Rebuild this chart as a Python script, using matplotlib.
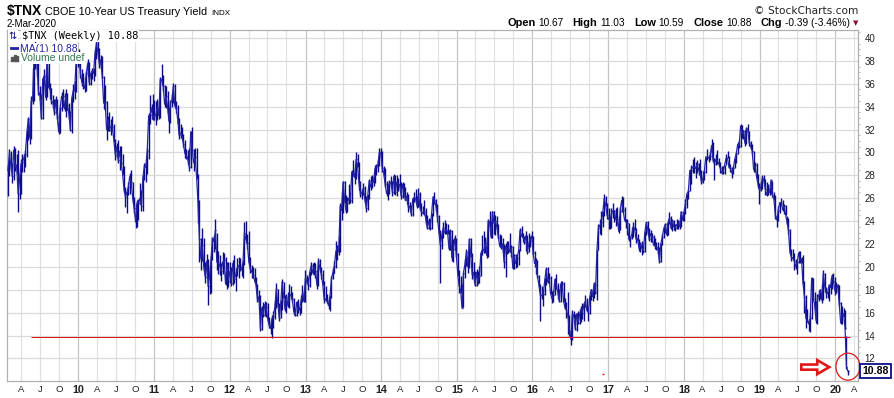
import matplotlib
matplotlib.use("Agg")
import matplotlib.pyplot as plt
from matplotlib.patches import Ellipse, FancyArrow, Rectangle
from matplotlib.lines import Line2D
from matplotlib.dates import date2num
import numpy as np
import pandas as pd

# ---------------- data: weekly $TNX bars (close / high / low) ----------------
closes_2009 = [28.4, 29.9, 28.9, 27.9, 30.2, 28.7, 28.9, 26.4, 27.6, 29.0,
               29.2, 29.5, 29.9, 31.6, 32.9, 31.3, 34.5, 34.6, 38.3, 37.9,
               37.8, 35.3, 35.0, 33.0, 36.4, 36.7, 34.8, 38.5, 35.7, 35.6,
               34.4, 34.4, 33.5, 34.6, 33.1, 31.8, 33.9, 34.9, 34.9, 33.8,
               35.0, 34.1, 33.4, 32.0, 34.7, 35.4, 35.4, 38.0, 38.4]
highs_2009 = [28.9, 30.3, 30.1, 29.1, 30.6, 30.4, 29.9, 30.2, 28.2, 29.4,
              29.9, 29.9, 30.2, 32.0, 33.1, 32.9, 34.9, 37.4, 38.9, 40.0,
              38.4, 38.0, 35.8, 35.1, 36.5, 37.3, 36.8, 38.9, 38.6, 36.1,
              35.6, 35.0, 34.7, 34.9, 34.7, 33.4, 34.0, 35.3, 35.5, 35.2,
              35.5, 35.2, 34.3, 33.6, 34.9, 36.0, 36.2, 38.2, 38.6]
lows_2009 = [26.2, 27.9, 28.5, 27.3, 27.6, 28.4, 28.1, 24.8, 25.9, 26.4,
             28.3, 28.3, 28.7, 29.6, 31.1, 30.7, 31.2, 34.2, 34.5, 37.3,
             36.6, 35.0, 34.6, 32.9, 32.9, 35.9, 34.6, 34.8, 35.5, 34.7,
             34.2, 33.9, 33.3, 33.4, 32.9, 31.6, 31.7, 33.6, 34.0, 33.6,
             33.1, 33.7, 32.9, 31.9, 31.7, 34.4, 34.7, 35.3, 37.5]

closes_2010 = [38.3, 36.8, 36.1, 35.9, 35.6, 36.9, 37.8, 36.1, 36.8, 37.1,
               36.9, 38.6, 39.5, 38.8, 37.7, 38.1, 36.6, 34.3, 34.4, 32.0,
               32.9, 32.0, 32.3, 32.2, 31.1, 29.8, 30.5, 29.3, 30.1, 29.1,
               28.2, 26.8, 26.1, 26.5, 27.0, 27.9, 27.4, 26.0, 25.1, 23.9,
               25.6, 25.6, 26.0, 25.3, 27.7, 28.8, 28.7, 30.1, 33.2, 33.3,
               33.9, 32.9]
highs_2010 = [39.0, 38.5, 37.3, 36.9, 36.6, 37.1, 38.2, 37.9, 37.1, 37.4,
              37.4, 39.0, 39.8, 40.1, 39.1, 38.5, 38.4, 36.7, 35.9, 34.5,
              33.2, 33.5, 32.9, 33.2, 32.5, 31.2, 30.8, 31.1, 30.6, 30.6,
              29.9, 28.8, 27.0, 26.6, 27.4, 28.2, 28.5, 27.4, 26.1, 25.5,
              25.8, 25.9, 27.3, 26.7, 28.0, 29.1, 29.2, 30.4, 33.4, 35.0,
              34.2, 35.1]
lows_2010 = [37.7, 36.5, 35.8, 35.5, 35.3, 35.4, 36.7, 35.9, 35.9, 36.4,
             36.2, 36.7, 38.2, 38.5, 37.4, 37.3, 36.5, 33.8, 33.7, 31.1,
             31.9, 31.9, 31.5, 31.9, 30.9, 29.3, 29.6, 29.1, 28.5, 28.9,
             28.0, 26.5, 25.2, 24.7, 26.3, 26.4, 27.1, 25.6, 24.7, 23.4,
             23.5, 24.1, 25.5, 24.9, 24.9, 27.6, 27.4, 28.1, 29.4, 32.5,
             32.9, 32.8]

closes_2011 = [33.2, 33.3, 34.0, 33.2, 36.4, 36.3, 35.8, 34.2, 34.9, 34.0,
               32.7, 34.4, 34.5, 35.8, 34.1, 33.9, 32.9, 31.5, 31.7, 31.5,
               30.7, 29.9, 29.7, 29.4, 28.7, 31.8, 30.2, 29.1, 29.6, 28.0,
               25.6, 22.4, 20.7, 21.9, 20.0, 19.1, 20.5, 18.3, 19.2, 20.7,
               22.5, 22.2, 23.2, 20.4, 20.4, 20.1, 19.6, 20.4, 20.6, 18.5,
               20.2, 18.8]
highs_2011 = [34.6, 34.5, 34.7, 34.5, 36.6, 37.7, 36.8, 35.9, 35.8, 35.4,
              34.0, 34.6, 35.1, 36.1, 36.0, 34.5, 34.1, 33.0, 32.5, 32.2,
              31.6, 31.1, 30.3, 30.2, 30.4, 31.9, 32.2, 30.3, 30.4, 30.4,
              28.1, 25.8, 22.5, 23.4, 22.5, 20.4, 21.1, 20.7, 20.2, 21.0,
              22.6, 22.8, 24.2, 23.0, 21.4, 21.0, 20.3, 21.3, 21.2, 20.9,
              20.4, 20.4]
lows_2011 = [32.8, 32.4, 32.8, 32.9, 33.0, 35.9, 35.4, 34.0, 33.9, 33.4,
             31.7, 32.6, 34.0, 34.3, 33.9, 33.4, 32.5, 31.2, 31.3, 31.1,
             30.5, 29.5, 29.4, 29.0, 28.4, 28.6, 29.9, 28.4, 29.0, 27.7,
             23.8, 20.4, 19.7, 20.5, 19.7, 18.6, 19.0, 16.7, 17.6, 17.7,
             20.6, 21.3, 21.6, 19.7, 19.4, 19.3, 18.8, 19.4, 19.9, 18.4,
             18.1, 18.2]

closes_2012 = [19.6, 18.6, 20.3, 18.9, 19.3, 19.9, 20.1, 19.8, 19.8, 20.3,
               23.0, 22.4, 22.1, 20.5, 19.8, 19.6, 19.3, 18.8, 18.4, 17.1,
               17.4, 14.6, 16.4, 15.8, 16.7, 16.5, 15.5, 14.9, 14.6, 15.5,
               15.7, 16.5, 18.1, 16.8, 15.5, 16.7, 18.7, 17.5, 16.3, 17.4,
               16.6, 17.6, 17.5, 17.2, 16.1, 15.8, 16.9, 16.2, 16.3, 17.0,
               17.7, 17.0]
highs_2012 = [20.4, 20.0, 20.6, 21.0, 19.9, 20.8, 20.9, 20.8, 20.3, 20.6,
              23.9, 24.0, 22.9, 23.1, 20.9, 20.2, 20.0, 19.9, 19.1, 18.5,
              18.0, 17.5, 16.6, 16.9, 17.0, 16.9, 16.8, 15.6, 15.3, 15.8,
              16.1, 17.0, 18.6, 18.1, 16.8, 17.1, 18.9, 18.7, 17.5, 17.6,
              17.8, 18.5, 18.3, 17.8, 17.3, 16.4, 17.0, 17.2, 16.5, 17.5,
              18.4, 18.0]
lows_2012 = [18.6, 18.3, 18.4, 18.6, 17.9, 19.2, 19.0, 19.6, 19.2, 19.0,
             20.2, 22.1, 21.6, 20.3, 19.5, 19.0, 19.0, 18.7, 18.2, 16.9,
             16.9, 14.4, 14.5, 15.6, 15.7, 15.6, 15.3, 14.7, 14.1, 13.8,
             14.7, 15.4, 16.4, 16.5, 15.3, 15.5, 16.2, 17.3, 16.1, 16.0,
             16.5, 16.4, 17.2, 16.9, 15.8, 15.7, 15.7, 16.0, 15.8, 16.0,
             16.9, 16.9]

closes_2013 = [19.0, 18.7, 18.4, 19.5, 20.1, 19.5, 20.0, 19.6, 18.4, 20.5,
               19.9, 19.3, 18.5, 17.1, 17.2, 17.0, 16.6, 17.4, 19.0, 19.5,
               20.1, 21.3, 21.7, 21.3, 25.3, 24.9, 27.4, 25.9, 24.9, 25.6,
               26.0, 25.8, 28.3, 28.2, 27.8, 29.4, 28.9, 27.3, 26.3, 26.5,
               26.9, 25.9, 25.1, 26.2, 27.5, 27.0, 27.5, 27.4, 28.6, 28.7,
               28.9, 30.0]
highs_2013 = [19.7, 19.3, 19.1, 19.6, 20.4, 20.3, 20.4, 20.3, 19.7, 20.8,
              20.7, 20.0, 19.7, 18.8, 18.3, 17.6, 17.4, 17.5, 19.2, 19.9,
              20.5, 22.3, 21.9, 22.7, 25.6, 26.6, 27.5, 27.5, 26.3, 26.1,
              27.2, 26.5, 28.5, 29.3, 28.6, 30.0, 29.9, 29.2, 27.5, 26.8,
              27.3, 27.1, 26.2, 26.4, 27.7, 27.9, 28.0, 27.9, 28.9, 29.0,
              29.4, 30.4]
lows_2013 = [16.9, 18.5, 18.0, 18.2, 19.3, 19.4, 19.3, 19.0, 18.1, 18.3,
             19.6, 18.9, 18.4, 16.8, 17.0, 16.8, 16.3, 16.1, 17.3, 18.9,
             19.5, 19.9, 20.6, 21.0, 21.3, 24.1, 24.7, 25.6, 24.7, 24.8,
             25.5, 25.6, 25.6, 27.9, 27.2, 27.7, 28.7, 26.7, 26.1, 25.9,
             26.3, 25.7, 24.8, 25.0, 25.9, 26.7, 26.9, 27.1, 27.3, 28.0,
             28.3, 28.8]

closes_2014 = [29.9, 28.6, 28.2, 27.2, 26.4, 26.8, 27.4, 27.3, 26.5, 27.9,
               26.5, 27.4, 27.2, 27.2, 26.2, 27.2, 26.6, 25.8, 26.2, 25.2,
               25.3, 24.6, 25.9, 26.0, 26.0, 25.3, 26.4, 25.2, 24.8, 24.7,
               24.9, 24.2, 23.4, 24.0, 23.4, 24.6, 26.1, 25.8, 25.3, 24.4,
               23.1, 21.9, 22.7, 23.4, 23.0, 23.2, 23.1, 21.6, 23.1, 20.8,
               21.6, 22.5, 21.1]
highs_2014 = [30.4, 30.1, 28.8, 28.6, 27.5, 27.2, 27.6, 27.9, 27.5, 28.1,
              28.0, 28.0, 27.8, 28.1, 27.4, 27.4, 27.3, 27.0, 26.5, 26.4,
              25.7, 25.4, 26.1, 26.5, 26.8, 26.2, 26.9, 26.5, 25.6, 25.3,
              25.8, 25.1, 24.5, 24.3, 24.2, 24.7, 26.2, 26.5, 25.9, 25.5,
              24.5, 23.2, 23.0, 23.9, 24.1, 23.8, 23.7, 23.2, 23.3, 23.2,
              22.4, 22.8, 22.5]
lows_2014 = [29.5, 28.3, 27.9, 27.0, 26.2, 25.8, 26.4, 27.0, 26.2, 26.4,
             26.3, 26.2, 26.6, 26.9, 25.9, 26.0, 26.5, 25.8, 25.5, 24.8,
             25.0, 24.4, 24.4, 25.7, 25.6, 25.1, 25.2, 25.0, 24.4, 24.6,
             24.5, 23.7, 23.3, 23.3, 23.2, 23.3, 24.4, 25.5, 24.9, 23.9,
             22.9, 18.6, 21.6, 22.5, 22.9, 22.9, 22.9, 21.5, 21.5, 20.5,
             20.4, 21.5, 20.9]

closes_2015 = [19.5, 18.3, 18.0, 16.4, 19.5, 20.2, 21.3, 20.0, 22.4, 21.1,
               19.3, 19.5, 18.4, 19.5, 18.7, 19.2, 21.2, 21.5, 21.4, 22.1,
               21.0, 24.0, 23.9, 22.6, 24.8, 23.8, 24.0, 23.5, 22.6, 21.8,
               21.7, 22.0, 20.4, 21.8, 21.3, 21.8, 21.3, 21.7, 19.9, 21.0,
               20.3, 20.8, 21.4, 23.2, 22.7, 22.6, 22.2, 22.7, 21.3, 22.0,
               22.5, 22.7]
highs_2015 = [21.2, 19.7, 19.2, 18.5, 19.5, 20.7, 21.6, 21.4, 22.5, 22.5,
              21.2, 20.4, 19.6, 19.8, 19.6, 20.1, 21.2, 22.8, 23.1, 22.6,
              22.4, 24.2, 24.9, 24.0, 24.9, 24.9, 24.5, 24.4, 23.7, 22.9,
              22.8, 22.5, 22.0, 22.1, 22.3, 22.3, 23.0, 21.9, 21.8, 21.1,
              21.1, 21.0, 21.6, 23.4, 23.6, 23.0, 22.7, 23.1, 22.8, 23.0,
              22.7, 23.1]
lows_2015 = [19.2, 17.7, 17.7, 16.4, 16.5, 19.0, 20.1, 19.5, 19.9, 20.9,
             18.9, 18.7, 18.3, 18.3, 18.5, 18.6, 19.2, 21.0, 21.2, 21.2,
             20.8, 20.9, 23.5, 22.5, 22.5, 22.9, 22.8, 23.3, 22.4, 21.7,
             21.6, 21.3, 19.9, 19.1, 21.1, 21.2, 21.3, 20.9, 19.8, 19.8,
             19.9, 20.0, 20.2, 21.4, 22.6, 22.2, 22.0, 21.4, 21.1, 21.3,
             21.7, 22.2]

closes_2016 = [21.2, 20.3, 20.5, 19.2, 18.4, 17.5, 17.5, 17.6, 18.8, 19.8,
               18.7, 19.0, 17.7, 17.2, 17.5, 18.9, 18.3, 17.8, 17.0, 18.5,
               18.5, 17.0, 16.4, 16.2, 15.7, 14.4, 13.7, 15.9, 15.7, 14.6,
               15.9, 15.1, 15.8, 16.3, 16.0, 16.7, 17.0, 16.2, 16.0, 17.3,
               18.0, 17.4, 18.5, 17.8, 21.5, 23.4, 23.6, 23.9, 24.7, 26.0,
               25.4, 24.5]
highs_2016 = [22.7, 21.4, 20.8, 20.6, 19.3, 18.5, 18.3, 18.1, 19.0, 20.0,
              20.0, 19.5, 19.2, 17.9, 18.0, 19.0, 19.4, 18.6, 18.1, 18.8,
              18.8, 18.7, 17.3, 16.9, 17.8, 15.8, 14.5, 16.2, 16.1, 15.9,
              16.0, 16.1, 16.3, 16.6, 16.8, 16.8, 17.5, 17.3, 16.3, 17.5,
              18.1, 18.0, 18.7, 18.6, 21.5, 23.7, 24.2, 24.9, 24.9, 26.4,
              26.2, 25.6]
lows_2016 = [21.1, 20.0, 19.4, 19.0, 18.2, 15.3, 17.2, 16.6, 17.5, 18.4,
             18.6, 18.6, 17.6, 16.8, 16.9, 17.5, 18.1, 17.2, 16.9, 16.9,
             18.0, 16.9, 16.3, 15.5, 14.1, 14.0, 13.2, 13.6, 15.5, 14.5,
             14.4, 15.0, 15.0, 15.2, 15.4, 15.3, 16.5, 16.1, 15.3, 15.9,
             17.1, 17.0, 17.3, 17.6, 17.1, 21.5, 22.9, 22.8, 23.5, 24.4,
             25.3, 24.2]

closes_2017 = [24.2, 24.0, 24.7, 24.9, 24.9, 24.1, 24.2, 23.1, 24.9, 25.8,
               25.0, 24.1, 23.9, 23.8, 22.4, 22.5, 22.8, 23.5, 23.3, 22.4,
               22.5, 21.6, 22.0, 21.6, 21.4, 23.0, 23.9, 23.3, 22.4, 22.9,
               22.6, 21.9, 21.9, 21.7, 21.6, 20.5, 22.0, 22.6, 23.3, 23.7,
               22.8, 23.9, 24.3, 23.4, 24.0, 23.5, 23.4, 23.7, 23.8, 23.5,
               24.8, 24.1]
highs_2017 = [25.1, 24.3, 25.1, 25.6, 25.0, 25.1, 25.2, 24.4, 25.2, 26.2,
              26.1, 25.2, 24.2, 24.2, 23.8, 22.7, 23.5, 23.9, 24.2, 23.4,
              22.9, 22.4, 22.2, 22.3, 21.8, 23.1, 23.9, 24.0, 23.4, 23.2,
              23.0, 22.8, 22.5, 22.2, 22.2, 21.7, 22.1, 22.9, 23.5, 23.8,
              23.8, 23.9, 24.8, 24.4, 24.2, 24.1, 23.7, 24.2, 24.1, 24.1,
              24.9, 24.8]
lows_2017 = [23.3, 23.3, 23.4, 24.3, 23.9, 23.6, 23.7, 23.0, 23.2, 24.8,
             24.8, 24.0, 23.4, 22.8, 22.3, 21.7, 22.4, 22.6, 23.2, 22.1,
             22.3, 21.4, 21.3, 21.0, 21.2, 21.3, 22.8, 23.0, 22.3, 22.2,
             22.2, 21.8, 21.6, 21.5, 21.1, 20.3, 20.4, 21.9, 22.5, 23.0,
             22.7, 22.8, 23.7, 23.3, 23.1, 23.2, 23.1, 23.3, 23.3, 23.3,
             23.5, 24.0]

closes_2018 = [24.8, 25.5, 26.4, 26.6, 28.4, 28.5, 28.7, 28.7, 28.6, 29.0,
               28.5, 28.2, 27.4, 27.7, 28.3, 29.6, 29.6, 29.5, 29.7, 30.6,
               29.3, 29.0, 29.4, 29.2, 29.0, 28.6, 28.2, 28.3, 28.9, 29.5,
               29.5, 28.7, 28.6, 28.2, 28.6, 29.4, 29.9, 30.7, 30.6, 32.3,
               31.6, 31.9, 30.8, 32.1, 31.9, 30.8, 30.5, 30.1, 28.5, 28.9,
               27.9, 27.2]
highs_2018 = [24.9, 25.9, 26.4, 26.7, 28.5, 28.9, 29.4, 29.6, 29.2, 29.3,
              29.1, 29.4, 28.5, 28.4, 28.5, 29.6, 30.3, 29.8, 30.0, 31.2,
              30.9, 29.5, 29.9, 30.2, 29.5, 29.2, 28.8, 28.8, 28.9, 29.9,
              30.1, 29.7, 29.0, 28.7, 28.8, 29.5, 30.0, 30.9, 31.1, 32.5,
              32.4, 32.0, 32.0, 32.2, 32.5, 31.9, 31.0, 30.7, 30.1, 29.2,
              29.1, 28.1]
lows_2018 = [24.0, 24.6, 25.1, 25.9, 26.6, 27.2, 28.2, 28.2, 27.8, 28.2,
             28.0, 28.1, 27.2, 27.3, 27.6, 28.2, 29.3, 29.2, 29.3, 29.9,
             29.2, 27.6, 28.9, 29.0, 28.8, 28.2, 28.1, 28.1, 28.1, 28.9,
             29.5, 28.6, 28.3, 27.8, 28.1, 28.6, 29.1, 29.9, 30.4, 30.5,
             31.3, 31.2, 30.6, 30.7, 31.8, 30.6, 30.3, 29.9, 28.3, 28.3,
             27.7, 26.9]

closes_2019 = [26.7, 27.0, 27.8, 27.6, 26.8, 26.3, 26.6, 26.5, 27.6, 26.3,
               25.9, 24.4, 24.1, 25.0, 25.6, 25.6, 25.0, 25.3, 24.6, 23.9,
               23.2, 21.3, 20.8, 20.8, 20.5, 20.0, 20.4, 21.2, 20.6, 20.7,
               18.6, 17.4, 15.5, 15.3, 15.0, 15.5, 19.0, 17.2, 16.8, 15.3,
               17.3, 17.5, 18.0, 17.1, 19.4, 18.3, 17.7, 17.7, 18.4, 18.2,
               19.2, 18.8, 17.9]
highs_2019 = [27.3, 27.5, 28.0, 28.0, 27.7, 27.4, 27.2, 27.0, 27.6, 27.5,
              26.5, 26.3, 24.5, 25.3, 25.7, 26.0, 25.8, 25.5, 25.4, 24.4,
              24.3, 23.3, 21.6, 21.6, 21.2, 20.7, 20.6, 21.4, 21.4, 20.9,
              21.0, 18.8, 17.5, 16.3, 15.4, 15.9, 19.1, 19.0, 17.8, 17.0,
              17.6, 18.0, 18.1, 18.5, 19.7, 19.5, 18.2, 17.9, 18.5, 19.0,
              19.4, 19.5, 19.1]
lows_2019 = [25.5, 26.6, 26.8, 27.3, 26.3, 26.2, 26.3, 26.3, 26.4, 26.1,
             25.8, 24.2, 23.5, 24.0, 24.7, 25.4, 24.9, 24.6, 24.5, 23.7,
             22.9, 21.2, 20.5, 20.6, 19.7, 19.8, 19.4, 20.3, 20.3, 20.3,
             18.5, 16.0, 14.7, 15.2, 14.4, 14.3, 15.4, 17.2, 16.2, 15.1,
             15.0, 17.0, 17.2, 16.8, 17.1, 17.8, 17.3, 17.3, 17.0, 17.6,
             18.1, 18.6, 17.5]

closes_2020 = [18.2, 18.4, 16.8, 15.1, 15.8, 15.9, 14.7, 11.27, 10.88]
highs_2020 = [18.7, 18.5, 18.4, 16.9, 16.6, 16.4, 16.2, 14.0, 11.03]
lows_2020 = [17.7, 17.9, 16.6, 15.0, 15.0, 15.6, 14.6, 11.1, 10.59]

last_open = 10.67
chg, chg_pct = -0.39, -3.46
support_level = 13.84
support_start, support_end = "2009-05-15", "2020-03-10"
marker_date, marker_value = "2016-12-05", 10.62
last_week = "2020-03-02"

closes = (closes_2009 + closes_2010 + closes_2011 + closes_2012 + closes_2013 +
          closes_2014 + closes_2015 + closes_2016 + closes_2017 + closes_2018 +
          closes_2019 + closes_2020)
highs = (highs_2009 + highs_2010 + highs_2011 + highs_2012 + highs_2013 +
         highs_2014 + highs_2015 + highs_2016 + highs_2017 + highs_2018 +
         highs_2019 + highs_2020)
lows = (lows_2009 + lows_2010 + lows_2011 + lows_2012 + lows_2013 +
        lows_2014 + lows_2015 + lows_2016 + lows_2017 + lows_2018 +
        lows_2019 + lows_2020)
dates = pd.date_range(end=last_week, periods=len(closes), freq="W-MON")
last_close, last_high, last_low = closes[-1], highs[-1], lows[-1]

# ---------------- figure ----------------
W, H, DPI = 894, 398, 100
L, R, T, B = 7.3, 858.3, 29.7, 381.3
NAVY = "#0c0c88"
MA_BLUE = "#2424a4"
RED = "#e01818"
SANS = "Liberation Sans"

fig = plt.figure(figsize=(W / DPI, H / DPI), dpi=DPI)
fig.patch.set_facecolor("white")
ax = fig.add_axes([L / W, 1 - B / H, (R - L) / W, (B - T) / H])
ax.set_axisbelow(True)

# OHLC-style bars (high-low + close tick) and MA(1) line
ax.vlines(dates, lows, highs, color=NAVY, lw=1.0, zorder=3)
ax.hlines(closes, dates, dates + pd.Timedelta(days=3), color=NAVY, lw=1.0, zorder=3)
ax.plot(dates, closes, color=MA_BLUE, lw=0.9, zorder=3)

# support line and small marker
ax.hlines(support_level, pd.Timestamp(support_start), pd.Timestamp(support_end),
          color=RED, lw=0.75, zorder=4)
md = pd.Timestamp(marker_date)
ax.hlines(marker_value, md - pd.Timedelta(days=6), md + pd.Timedelta(days=6),
          color=RED, lw=1.0, zorder=4)

# axes limits & ticks
ax.set_xlim(pd.Timestamp("2009-01-23"), pd.Timestamp("2020-04-21"))
ax.set_ylim(10.0, 40.72)

year_ticks = [pd.Timestamp(f"{y}-01-01") for y in range(2010, 2021)]
q_ticks = [pd.Timestamp(f"{y}-{m:02d}-01") for y in range(2009, 2021) for m in (4, 7, 10)]
q_ticks = [d for d in q_ticks if d <= pd.Timestamp("2020-04-21")]
q_names = {4: "A", 7: "J", 10: "O"}
ax.set_xticks(year_ticks)
ax.set_xticklabels([f"{d.year % 100:02d}" for d in year_ticks],
                   fontweight="bold", fontsize=7.8, family=SANS)
ax.set_xticks(q_ticks, minor=True)
ax.set_xticklabels([q_names[d.month] for d in q_ticks], minor=True,
                   fontsize=6.8, family=SANS)

yt = np.arange(12, 41, 2)
ax.set_yticks(yt)
ax.set_yticklabels([str(v) for v in yt], fontsize=7, family=SANS)
ax.set_yticks(np.arange(10.5, 40.6, 0.5), minor=True)
ax.yaxis.tick_right()

ax.grid(True, which="major", axis="x", color="#c4c4c4", lw=0.9)
ax.grid(True, which="minor", axis="x", color="#e0e0e0", lw=0.9)
ax.grid(True, which="major", axis="y", color="#dadada", lw=0.9)

ax.tick_params(axis="x", which="both", length=0, pad=3, colors="#222222")
ax.tick_params(axis="y", which="major", length=0, pad=4.5, colors="#222222")
ax.tick_params(axis="y", which="minor", length=1.5, width=0.6, color="#aaaaaa")
for s in ax.spines.values():
    s.set_color("#b0b0b0")
    s.set_linewidth(0.9)

# annotations around last bar
xl = date2num(dates[-1])
ax.add_patch(Ellipse((xl, last_close + 0.4), width=116, height=2.36, fill=False,
                     edgecolor=RED, lw=0.9, clip_on=False, zorder=6))
ax.add_patch(FancyArrow(xl - 225, last_close + 0.36, 135, 0, width=0.45,
                        head_width=1.22, head_length=58, length_includes_head=True,
                        facecolor="white", edgecolor=RED, lw=1.9, zorder=6))
ax.annotate(f"{last_close:.2f}", xy=(1.0, last_close),
            xycoords=("axes fraction", "data"), xytext=(2.9, 0),
            textcoords="offset points", ha="left", va="center",
            fontsize=7.6, fontweight="bold", family=SANS, color="black",
            bbox=dict(boxstyle="square,pad=0.2", fc="white", ec=NAVY, lw=1.3),
            annotation_clip=False, zorder=7)

# ---------------- header texts ----------------
fig.canvas.draw()
rend = fig.canvas.get_renderer()


def row(pieces, x_px, y_px, align="left"):
    objs, total = [], 0.0
    for s, kw, gap in pieces:
        t = fig.text(0, 0, s, va="baseline", ha="left", **kw)
        w = t.get_window_extent(rend).width
        objs.append((t, w, gap))
        total += w + gap
    x = x_px if align == "left" else x_px - total
    for t, w, gap in objs:
        t.set_position((x / W, 1 - y_px / H))
        x += w + gap


row([("$TNX", dict(fontsize=10, fontweight="bold", family=SANS), 3),
     ("CBOE 10-Year US Treasury Yield", dict(fontsize=7.8, family=SANS), 4),
     ("INDX", dict(fontsize=5.8, family=SANS), 0)], 7, 15)
fig.text(7 / W, 1 - 26.7 / H, "2-Mar-2020", fontsize=7, family=SANS, va="baseline")

fig.text(858 / W, 1 - 14 / H, "© StockCharts.com", fontsize=7.6, family="DejaVu Sans",
         ha="right", va="baseline", color="#222222")

lab = dict(fontsize=7.9, fontweight="bold", family=SANS)
val = dict(fontsize=7.3, family=SANS)
row([("Open", lab, 3), (f"{last_open:.2f}", val, 9),
     ("High", lab, 3), (f"{last_high:.2f}", val, 9),
     ("Low", lab, 3), (f"{last_low:.2f}", val, 9),
     ("Close", lab, 3), (f"{last_close:.2f}", val, 9),
     ("Chg", lab, 3), (f"{chg:.2f} ({chg_pct:.2f}%)", val, 0)], 850, 26.5, align="right")
fig.text(856 / W, 1 - 23 / H, "▼", fontsize=5, family="DejaVu Sans",
         ha="center", va="center", color="#8b1030")

# in-chart legend (each line with its own white background)
bb = dict(facecolor="white", edgecolor="none", pad=0.6)
fig.text(8.5 / W, 1 - 39 / H, "⇅", fontsize=7, family="DejaVu Sans", color=NAVY,
         va="baseline", bbox=bb)
fig.text(22 / W, 1 - 39 / H, f"$TNX (Weekly) {last_close:.2f}", fontsize=7.4,
         family="DejaVu Sans Mono", color="black", va="baseline", bbox=bb)
fig.add_artist(Line2D([11 / W, 19 / W], [1 - 47.5 / H, 1 - 47.5 / H],
                      color=MA_BLUE, lw=2))
fig.text(20 / W, 1 - 51.5 / H, f"MA(1) {last_close:.2f}", fontsize=7.5, family=SANS,
         color=MA_BLUE, va="baseline", bbox=bb)
for i, hgt in enumerate([4, 6, 5]):
    fig.add_artist(Rectangle(((11 + i * 2.7) / W, 1 - 61 / H), 2.0 / W, hgt / H,
                             transform=fig.transFigure, color="#555555"))
fig.text(21 / W, 1 - 61 / H, "Volume undef", fontsize=7.5, family=SANS,
         color="#2f7a4f", va="baseline", bbox=bb)

fig.savefig("out.png", dpi=DPI, facecolor="white")
